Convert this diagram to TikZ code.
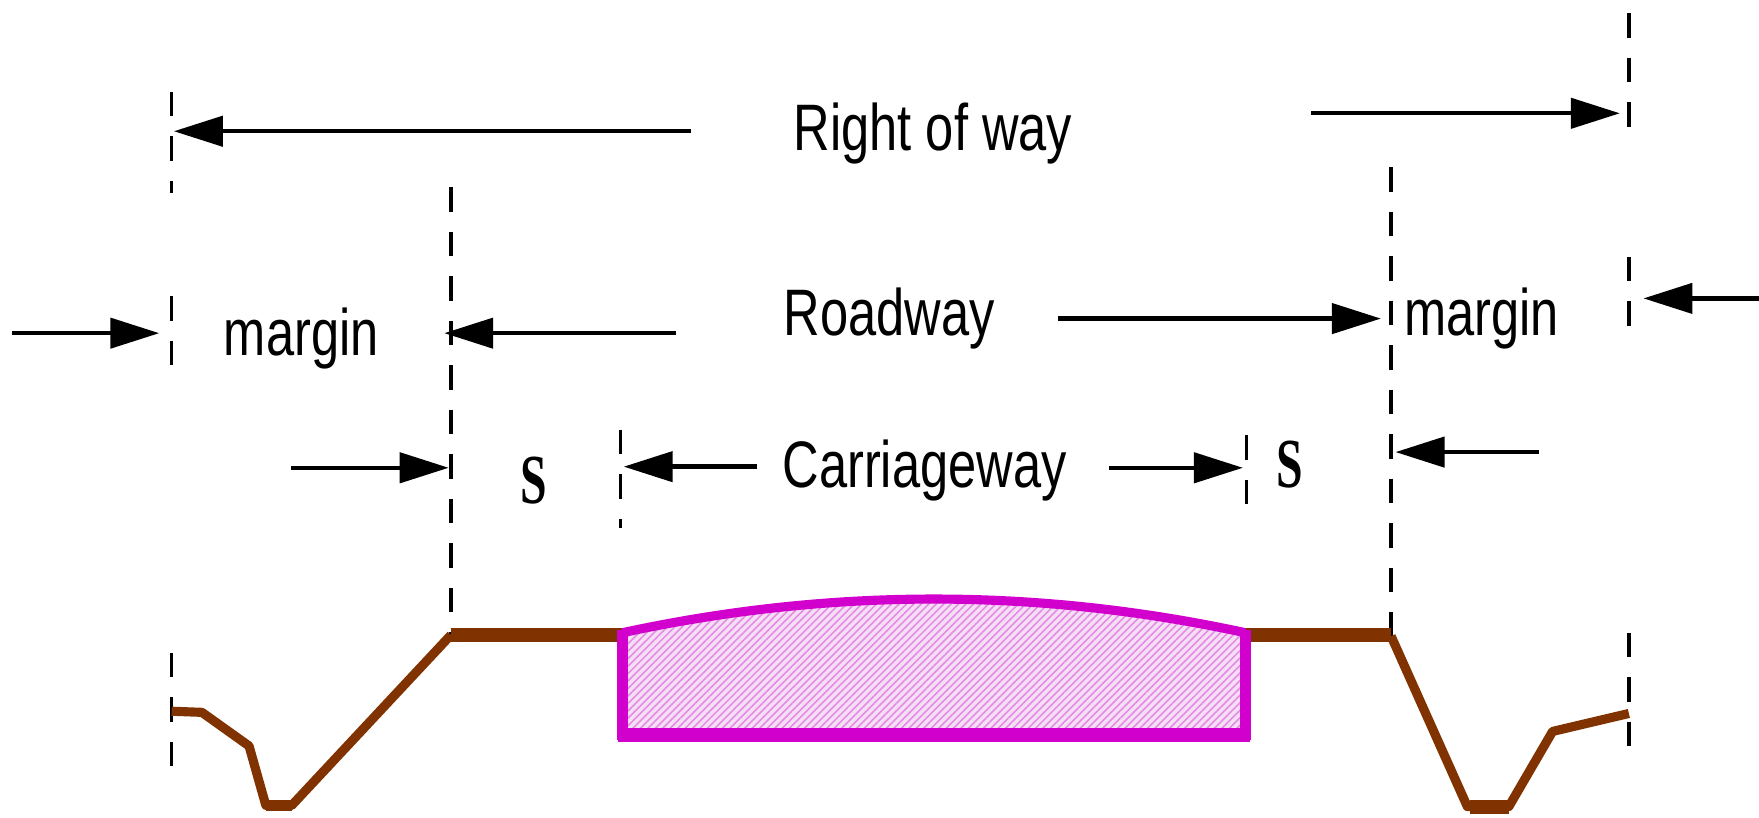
\documentclass[tikz,border=0pt]{standalone}
\usepackage{fontspec}
\setmainfont{Liberation Sans}
\newfontfamily\narrowsans[FakeStretch=0.77]{Liberation Sans}
\newfontfamily\narrowserif[FakeStretch=0.68]{Liberation Serif}
\usetikzlibrary{arrows.meta,patterns.meta}
\definecolor{groundbrown}{RGB}{128,50,0}
\definecolor{carmag}{RGB}{210,0,205}
\definecolor{hatchpink}{RGB}{228,140,228}
\definecolor{hatchbg}{RGB}{246,222,246}
\begin{document}
\begin{tikzpicture}[x=0.11218mm,y=-0.11218mm,
  dimline/.style={line width=1.25pt,-{Triangle[length=4.9mm,width=3.0mm]}},
  guide/.style={line width=1.0pt,dash pattern=on 2.45mm off 2.0mm},
  lbl/.style={font=\narrowsans\fontsize{18.7}{20}\selectfont,inner sep=0pt,anchor=base west},
  slbl/.style={font=\narrowserif\bfseries\fontsize{20}{22}\selectfont,inner sep=0pt,anchor=base west},
  ground/.style={groundbrown,line width=2.6pt,line join=round},
  shoulder/.style={groundbrown,line width=4.1pt},
  carr/.style={carmag,line width=3.1pt}]
\useasboundingbox (0,0) rectangle (1568,728.3);

% dashed guide lines
\draw[guide] (153,82) -- (153,172);
\draw[guide] (153,264) -- (153,327);
\draw[guide] (153,582) -- (153,690);
\draw[guide] (402,167) -- (402,568);
\draw[guide] (553,383) -- (553,471);
\draw[guide] (1111,388) -- (1111,455);
\draw[guide] (1240,149) -- (1240,568);
\draw[guide] (1452,12) -- (1452,118);
\draw[guide] (1452,229) -- (1452,296);
\draw[guide] (1452,564) -- (1452,670);

% labels
\node[lbl] (row) at (707,134) {Right of way};
\node[lbl] (road) at (698,299) {Roadway};
\node[lbl] (carw) at (697,435) {Carriageway};
\node[lbl] (margL) at (199,317) {margin};
\node[lbl] (margR) at (1251,299) {margin};
\node[slbl] (sL) at (463,449) {S};
\node[slbl] (sR) at (1137,435) {S};

% arrow end coordinates
\coordinate (rowLs) at (616,117);   \coordinate (rowLt) at (155,117);
\coordinate (rowRs) at (1169,101);  \coordinate (rowRt) at (1444,101);
\coordinate (mLs) at (11,297);      \coordinate (mLt) at (142,297);
\coordinate (rdLs) at (603,297);    \coordinate (rdLt) at (396,297);
\coordinate (rdRs) at (943,284);    \coordinate (rdRt) at (1231,284);
\coordinate (mRs) at (1568,266);    \coordinate (mRt) at (1465,266);
\coordinate (sLs) at (259,417);     \coordinate (sLt) at (400,417);
\coordinate (cLs) at (675,416);     \coordinate (cLt) at (556,416);
\coordinate (cRs) at (989,417);     \coordinate (cRt) at (1108,417);
\coordinate (sRs) at (1372,403);    \coordinate (sRt) at (1244,403);

\draw[dimline] (rowLs) -- (rowLt);
\draw[dimline] (rowRs) -- (rowRt);
\draw[dimline] (mLs) -- (mLt);
\draw[dimline] (rdLs) -- (rdLt);
\draw[dimline] (rdRs) -- (rdRt);
\draw[dimline] (mRs) -- (mRt);
\draw[dimline] (sLs) -- (sLt);
\draw[dimline] (cLs) -- (cLt);
\draw[dimline] (cRs) -- (cRt);
\draw[dimline] (sRs) -- (sRt);

% ground profile
\draw[ground] (153,634) -- (180,635) -- (222,665) -- (237,718) -- (260,718) -- (402,566);
\draw[groundbrown,line width=3.2pt] (237,718) -- (260,718);
\draw[shoulder] (402,566) -- (555,566);
\draw[shoulder] (1110,566) -- (1240,566);
\draw[ground] (1240,567) -- (1308,719) -- (1345,719) -- (1384,652) -- (1452,636);
\draw[groundbrown,line width=4.0pt] (1310,719) -- (1345,719);

% carriageway
\fill[hatchbg] (555,655) -- (555,564) .. controls (740,524) and (925,524) .. (1110,564) -- (1110,655) -- cycle;
\fill[pattern={Lines[angle=45,distance=1.5pt,line width=0.45pt]},pattern color=hatchpink]
  (555,655) -- (555,564) .. controls (740,524) and (925,524) .. (1110,564) -- (1110,655) -- cycle;
\draw[carr,line join=miter] (555,562) -- (555,655) -- (1110,655) -- (1110,562);
\draw[carmag,line width=4.1pt] (551,655) -- (1114,655);
\draw[carmag,line width=2.6pt] (555,564) .. controls (740,524) and (925,524) .. (1110,564);
\end{tikzpicture}
\end{document}
